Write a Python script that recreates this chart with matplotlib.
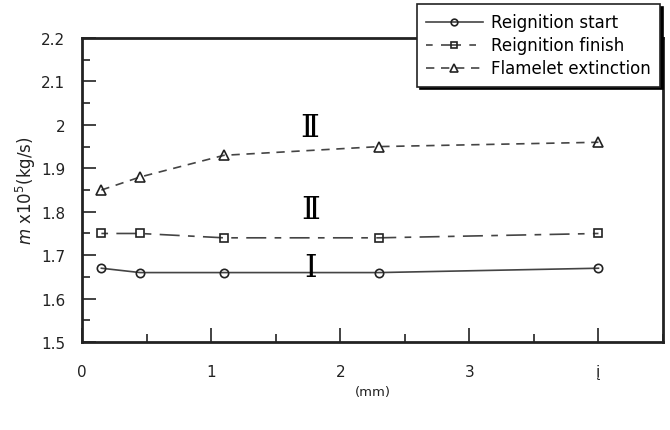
import numpy as np
import matplotlib.pyplot as plt
from matplotlib.ticker import MultipleLocator

# gap values (mm) and mass flow rates (x1e-5 kg/s)
gap = [0.15, 0.45, 1.1, 2.3, 4.0]
reign_start = [1.67, 1.66, 1.66, 1.66, 1.67]
reign_finish = [1.75, 1.75, 1.74, 1.74, 1.75]
flame_ext = [1.85, 1.88, 1.93, 1.95, 1.96]

xticks = [0, 1, 2, 3, 4]
xticklabels = ['0', '1', '2', '3', 'į']
yticks = [1.5, 1.6, 1.7, 1.8, 1.9, 2.0, 2.1, 2.2]
yticklabels = ['1.5', '1.6', '1.7', '1.8', '1.9', '2', '2.1', '2.2']

plt.rcParams['font.family'] = ['DejaVu Sans']
fig = plt.figure(figsize=(6.7, 4.31), dpi=100)
ax = fig.add_axes([0.1224, 0.204, 0.8672, 0.7055])

lc = '#444444'
ax.plot(gap, reign_start, color=lc, lw=1.2, marker='o', ms=6, mfc='none',
        mec='#222222', mew=1.2, label='Reignition start')
ax.plot(gap, reign_finish, color=lc, lw=1.2, marker='s', ms=6, mfc='none',
        mec='#222222', mew=1.2, dashes=(4, 5, 12, 5), label='Reignition finish')
ax.plot(gap, flame_ext, color=lc, lw=1.2, marker='^', ms=7, mfc='none',
        mec='#222222', mew=1.2, dashes=(5, 4), label='Flamelet extinction')

ax.set_xlim(0, 4.5)
ax.set_ylim(1.5, 2.2)
ax.set_xticks(xticks)
ax.set_xticklabels(xticklabels)
ax.set_yticks(yticks)
ax.set_yticklabels(yticklabels)
ax.xaxis.set_minor_locator(MultipleLocator(0.5))
ax.yaxis.set_minor_locator(MultipleLocator(0.05))
ax.tick_params(which='major', direction='in', length=10, width=1.2,
               labelsize=11, colors='#222222')
ax.tick_params(which='minor', direction='in', length=6, width=1.2, colors='#222222')
ax.tick_params(axis='x', pad=16)
ax.tick_params(axis='y', pad=12)
for s in ax.spines.values():
    s.set_linewidth(2)
    s.set_color('#222222')

ax.set_xlabel('(mm)', fontsize=9.5, color='#222222', labelpad=4)
ax.set_ylabel(r'$m$ x10$^5$(kg/s)', fontsize=12, color='#222222', labelpad=2)

serif = ['DejaVu Serif']
ax.text(1.76, 1.995, 'Ⅱ', fontsize=23, family=serif, ha='center', va='center')
ax.text(1.77, 1.806, 'Ⅱ', fontsize=23, family=serif, ha='center', va='center')
ax.text(1.77, 1.672, 'Ⅰ', fontsize=23, family=serif, ha='center', va='center')

leg = ax.legend(loc='upper right', bbox_to_anchor=(0.985, 0.988),
                bbox_transform=fig.transFigure, fontsize=12, frameon=True,
                fancybox=False, shadow={'color': 'black', 'alpha': 1},
                borderpad=0.55, labelspacing=0.3, handlelength=3.4,
                handletextpad=0.5, borderaxespad=0, markerscale=0.8)
leg.get_frame().set_edgecolor('#222222')
leg.get_frame().set_linewidth(1.2)
leg.get_frame().set_alpha(1)

fig.savefig('out.png', dpi=100)
